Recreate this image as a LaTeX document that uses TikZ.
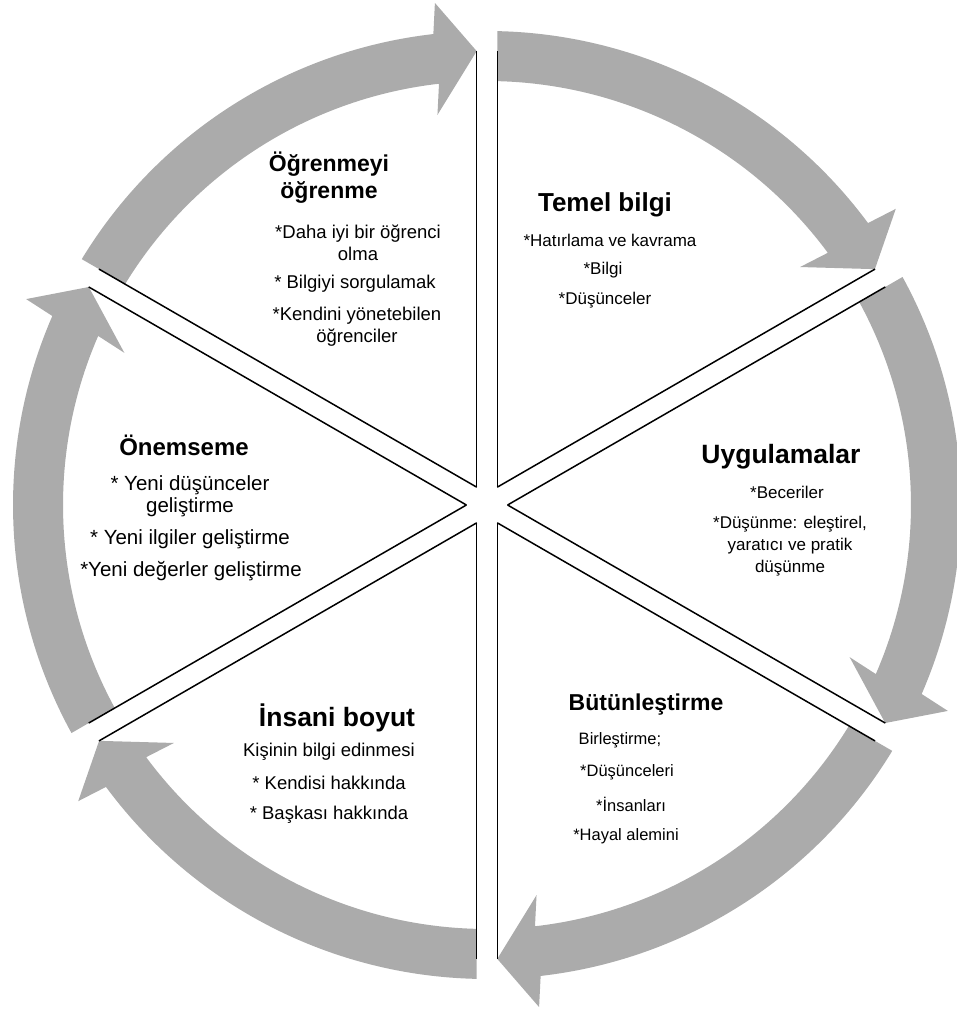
\documentclass[tikz,border=0pt]{standalone}
\usepackage{fontspec}
\setmainfont{Liberation Sans}
\usetikzlibrary{calc}
\definecolor{arrowgray}{RGB}{171,171,171}
\tikzset{
  cyc/.style={fill=arrowgray, draw=none},
  sepline/.style={draw=black, line width=1.5pt},
  head/.style={font=\fontsize{#1}{27}\selectfont\bfseries, align=center, inner sep=0pt},
  head/.default=25,
  body/.style={font=\fontsize{#1}{22}\selectfont, align=center, inner sep=0pt},
  body/.default=19,
}
\begin{document}
\begin{tikzpicture}[x=1pt,y=1pt]
\useasboundingbox (-487pt,-507pt) rectangle (470pt,505pt);
\clip (-487pt,-507pt) rectangle (470pt,505pt);
\coordinate (c) at (0,0);
% circular arrows
\foreach \p [count=\i] in {90,30,-30,-90,-150,-210} {
  \pgfmathsetmacro\aS{\p-1.245}
  \pgfmathsetmacro\aI{\p-1.392}
  \pgfmathsetmacro\aT{\p-60+1.30}
  \pgfmathsetmacro\aB{\aT+5.2}
  \coordinate (tip\i) at (\aT:454pt);
  \coordinate (bo\i) at ($(\aB:449pt)+(\aT:56pt)$);
  \coordinate (bi\i) at ($(\aB:449pt)+(\aT:-56pt)$);
  \fill[cyc] (\aS:474pt) arc[start angle=\aS, end angle=\aB, radius=474pt]
     -- (bo\i) -- (tip\i) -- (bi\i) -- (\aB:424pt)
     arc[start angle=\aB, end angle=\aI, radius=424pt] -- cycle;
}
% separator strips
\foreach \p [count=\i] in {90,30,-30,-90,-150,-210} {
  \pgfmathsetmacro\vA{\p+30}
  \pgfmathsetmacro\vB{\p-30}
  \pgfmathsetmacro\nA{\p+90}
  \pgfmathsetmacro\nB{\p-90}
  \coordinate (va\i) at (\vA:20.6pt);
  \coordinate (vb\i) at (\vB:20.6pt);
  \coordinate (ea\i) at ($(\p:454pt)+(\nA:10.3pt)$);
  \coordinate (eb\i) at ($(\p:454pt)+(\nB:10.3pt)$);
  \draw[sepline] (va\i) -- (ea\i);
  \draw[sepline] (vb\i) -- (eb\i);
}
% texts (image coordinates)
\begin{scope}[shift={(-487pt,505pt)}, x=1pt, y=-1pt]
  % top-left
  \node[head=23] (h1) at (329,178) {Öğrenmeyi\\öğrenme};
  \node[body=18.5] (t11) at (358,243) {*Daha iyi bir öğrenci\\olma};
  \node[body=18.5] (t12) at (355,284) {* Bilgiyi sorgulamak};
  \node[body=18.5] (t13) at (357,327) {*Kendini yönetebilen\\öğrenciler};
  % top-right
  \node[head=26] (h2) at (605,205) {Temel bilgi};
  \node[body=17] (t21) at (610,240) {*Hatırlama ve kavrama};
  \node[body=17] (t22) at (603,270) {*Bilgi};
  \node[body=17] (t23) at (605,300) {*Düşünceler};
  % right
  \node[head=26.5] (h3) at (781,457) {Uygulamalar};
  \node[body=17] (t31) at (787,492) {*Beceriler};
  \node[body=17] (t32) at (790,546) {*Düşünme: eleştirel,\\yaratıcı ve pratik\\düşünme};
  % bottom-right
  \node[head=23] (h4) at (646,705) {Bütünleştirme};
  \node[body=16.5] (t41) at (620,740) {Birleştirme;};
  \node[body=16.5] (t42) at (627,772) {*Düşünceleri};
  \node[body=16.5] (t43) at (631,804) {*İnsanları};
  \node[body=16.5] (t44) at (626,836) {*Hayal alemini};
  % bottom-left
  \node[head=26.5] (h5) at (337,718) {İnsani boyut};
  \node[body=18.5] (t51) at (329,752) {Kişinin bilgi edinmesi};
  \node[body=18.5] (t52) at (329,783) {* Kendisi hakkında};
  \node[body=18.5] (t53) at (329,815) {* Başkası hakkında};
  % left
  \node[head=24] (h6) at (184,445) {Önemseme};
  \node[body=20.5] (t61) at (190,496) {* Yeni düşünceler\\geliştirme};
  \node[body=20.5] (t62) at (190,539) {* Yeni ilgiler geliştirme};
  \node[body=20.5] (t63) at (191,571) {*Yeni değerler geliştirme};
\end{scope}
\end{tikzpicture}
\end{document}
